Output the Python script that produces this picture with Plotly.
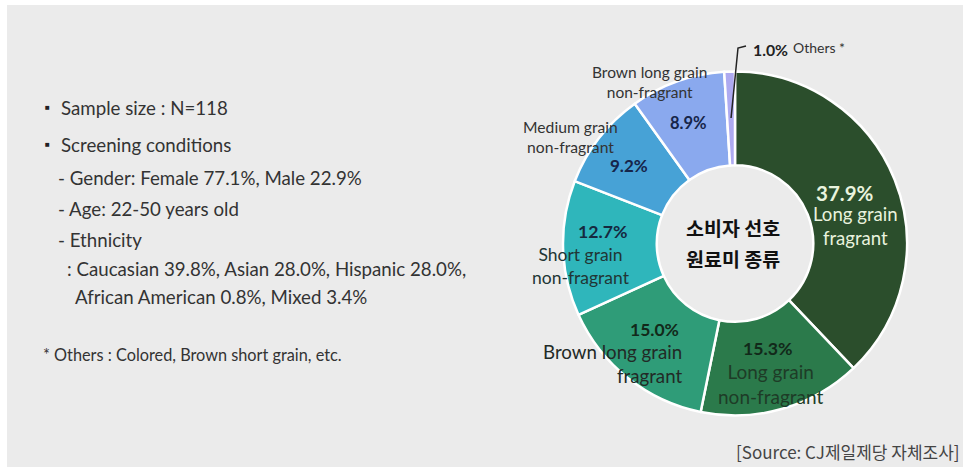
import math
import plotly.graph_objects as go

W, H = 970, 471

# ---- data ----
categories = ["Long grain fragrant", "Long grain non-fragrant", "Brown long grain fragrant",
              "Short grain non-fragrant", "Medium grain non-fragrant",
              "Brown long grain non-fragrant", "Others *"]
shares = [37.9, 15.3, 15.0, 12.7, 9.2, 8.9, 1.0]
colors = ["#2b4e2c", "#2b7a4b", "#2f9c78", "#2fb6bb", "#47a2d6", "#8aa9ee", "#aeaaf0"]

center_title = ["소비자 선호", "원료미 종류"]
source_text = "[Source: CJ제일제당 자체조사]"
notes = [
    ("Sample size : N=118", True),
    ("Screening conditions", True),
    ("- Gender: Female 77.1%, Male 22.9%", False),
    ("- Age: 22-50 years old", False),
    ("- Ethnicity", False),
    (": Caucasian 39.8%, Asian 28.0%, Hispanic 28.0%,", False),
    ("African American 0.8%, Mixed 3.4%", False),
]
footnote = "* Others : Colored, Brown short grain, etc."

# ---- geometry (pixels) ----
CX, CY, R = 735, 243.5, 172


def px(x):
    return x / W


def py(y):
    return 1 - y / H


FONT = "Lato"
KFONT = "Noto Sans CJK KR"

fig = go.Figure()
fig.add_trace(go.Pie(
    values=shares, labels=categories, sort=False, direction="clockwise", rotation=0,
    hole=0.455, textinfo="none", hoverinfo="label+percent",
    marker=dict(colors=colors, line=dict(color="white", width=2.5)),
    domain=dict(x=[px(CX - R), px(CX + R)], y=[py(CY + R), py(CY - R)]),
    showlegend=False,
))

ann = []


def add(text, x, y, size, color="#333333", xanchor="center", bold=False, font=FONT,
        align="center", yanchor="middle", pad=1):
    if bold:
        text = "<b>" + text.replace("<br>", "</b><br><b>") + "</b>"
    ann.append(dict(text=text, x=px(x), y=py(y), xref="paper", yref="paper",
                    xanchor=xanchor, yanchor=yanchor, showarrow=False, align=align,
                    borderpad=pad,
                    font=dict(family=font, size=size, color=color)))


# left notes
ys = [108, 145, 178, 209, 240, 269, 297]
xs = [61, 61, 58, 58, 58, 67, 75]
for (t, bullet), x, y in zip(notes, xs, ys):
    add(t, x - 2, y, 18.7, "#333333", xanchor="left")
    if bullet:
        add("■", 43, y - 1, 8, "#222222", xanchor="left")
add(footnote, 41, 354, 16.3, "#333333", xanchor="left")

# slice labels
pct = [f"{v:.1f}%" for v in shares]
add(pct[0], 845, 193, 20.5, "#e9f3de", bold=True)
add("Long grain<br>fragrant", 855, 226, 18.6, "#e9f3de")
add(pct[1], 767, 348, 17.7, "#12291a", bold=True)
add("Long grain<br>non-fragrant", 770, 384, 19, "#1e3c27")
add(pct[2], 654, 329, 17.5, "#12291a", bold=True)
add("Brown long grain<br>fragrant", 684, 364, 18.7, "#222a26", xanchor="right", align="right")
add(pct[3], 602, 231, 17.7, "#16293f", bold=True)
add("Short grain<br>non-fragrant", 581, 266, 17.5, "#213535")
add(pct[4], 629, 166, 17, "#16254a", bold=True)
add("Medium grain<br>non-fragrant", 570, 137, 15.7, "#333333")
add(pct[5], 688, 123, 16.5, "#16254a", bold=True)
add("Brown long grain<br>non-fragrant", 649, 82, 15.5, "#333333")
add(pct[6], 751, 50, 15.8, "#222222", xanchor="left", bold=True)
add(categories[6], 791, 48, 14, "#333333", xanchor="left")

# center title: two stacked lines that touch but do not overlap
add(center_title[0], CX - 2, 243, 19.5, "#111111", bold=True, font=KFONT, yanchor="bottom", pad=0)
add(center_title[1], CX - 2, 243, 19.5, "#111111", bold=True, font=KFONT, yanchor="top", pad=0)

# source
add(source_text, 962, 451, 17, "#444444", xanchor="right", font=KFONT)

# leader line for "Others" from its slice's mid angle
start = sum(shares[:-1]) / sum(shares) * 360
mid = math.radians(start + shares[-1] / sum(shares) * 360 / 2)
r0 = R * 0.73
x0, y0 = CX + r0 * math.sin(mid), CY - r0 * math.cos(mid)
shapes = [
    dict(type="rect", xref="paper", yref="paper", x0=px(7), x1=px(963), y0=py(467), y1=py(5),
         fillcolor="#ebebeb", line=dict(width=0), layer="below"),
    dict(type="path", xref="paper", yref="paper",
         path=f"M {px(x0)},{py(y0)} L {px(738)},{py(48)} L {px(746)},{py(46)}",
         line=dict(color="#222222", width=1.5)),
]

fig.update_layout(width=W, height=H, margin=dict(l=0, r=0, t=0, b=0),
                  paper_bgcolor="white", plot_bgcolor="white",
                  annotations=ann, shapes=shapes)
fig.write_html("out.html")
